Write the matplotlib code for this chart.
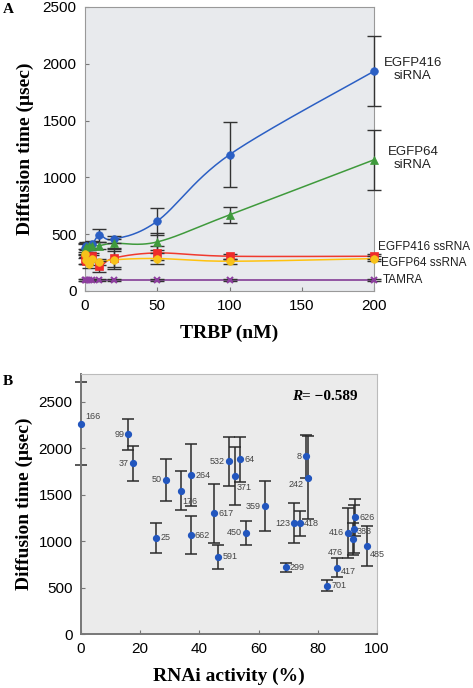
import numpy as np
import matplotlib.pyplot as plt

# --- Panel A : temps de diffusion en fonction de TRBP ---
trbp = [0, 1, 2.5, 5, 10, 20, 50, 100, 200]
egfp416_si = [380, 400, 390, 410, 490, 455, 615, 1200, 1935]
egfp416_si_err = [40, 30, 30, 30, 60, 30, 120, 285, 310]
egfp64_si = [370, 390, 400, 400, 400, 420, 432, 670, 1155]
egfp64_si_err = [40, 30, 30, 30, 30, 40, 75, 70, 265]
egfp416_ss = [280, 265, 300, 305, 218, 290, 335, 306, 306]
egfp416_ss_err = [40, 30, 40, 30, 50, 80, 60, 20, 20]
egfp64_ss = [330, 270, 235, 285, 255, 275, 286, 262, 285]
egfp64_ss_err = [40, 30, 30, 30, 30, 80, 45, 20, 20]
tamra = [100, 100, 100, 100, 100, 100, 100, 100, 100]
tamra_err = [10, 10, 10, 10, 10, 10, 10, 10, 10]

# --- Panel B : temps de diffusion vs activité RNAi ---
noms = ["166", "99", "37", "50", "176", "264", "532", "64", "371", "617",
        "662", "25", "591", "450", "359", "8", "242", "123", "418", "299",
        "701", "417", "416", "476", "383", "626", "485"]
rnai = [0, 16.0, 17.6, 28.7, 33.8, 37.2, 50.1, 53.8, 52.1, 45.0,
        37.0, 25.4, 46.4, 55.7, 62.0, 75.9, 76.7, 72.0, 73.9, 69.1,
        83.2, 86.5, 90.3, 91.9, 92.1, 92.6, 96.5]
diffusion = [2265, 2150, 1840, 1660, 1545, 1710, 1860, 1880, 1700, 1300,
             1065, 1035, 830, 1090, 1375, 1915, 1685, 1195, 1195, 720,
             520, 715, 1090, 1025, 1130, 1255, 950]
diffusion_err = [450, 170, 190, 230, 210, 335, 265, 240, 310, 320,
                 205, 160, 130, 130, 270, 230, 445, 215, 135, 50,
                 58, 105, 270, 170, 260, 200, 215]


def lisser(x, y, sx, sy, n=30):
    """Courbe lissée (type Excel, Bézier Catmull-Rom) passant par les points."""
    p = np.column_stack([np.asarray(x, float) / sx, np.asarray(y, float) / sy])
    p = np.vstack([p[0], p, p[-1]])
    t = np.linspace(0, 1, n)[:, None]
    seg = []
    for i in range(1, len(p) - 2):
        p0, p1, p2, p3 = p[i - 1], p[i], p[i + 1], p[i + 2]
        c1 = p1 + (p2 - p0) / 6.0
        c2 = p2 - (p3 - p1) / 6.0
        b = ((1 - t) ** 3) * p1 + 3 * ((1 - t) ** 2) * t * c1 \
            + 3 * (1 - t) * t ** 2 * c2 + t ** 3 * p2
        seg.append(b)
    b = np.vstack(seg)
    return b[:, 0] * sx, b[:, 1] * sy


fig = plt.figure(figsize=(4.73, 6.88), dpi=100)
plt.rcParams["font.family"] = ["Liberation Sans", "DejaVu Sans"]
SERIF = ["Liberation Serif", "DejaVu Serif"]

# ===================== Panel A =====================
axA = fig.add_axes([85 / 473, 1 - 291 / 688, 289 / 473, 284 / 688])
axA.set_facecolor("#e8eaed")

series = [
    (egfp416_si, egfp416_si_err, "#2b5fc4", "#2b5fc4", "o"),
    (egfp64_si, egfp64_si_err, "#3f9a3c", "#3f9a3c", "^"),
    (egfp416_ss, egfp416_ss_err, "#f03a2e", "#ef2b2b", "s"),
    (egfp64_ss, egfp64_ss_err, "#ffc20e", "#f7c21a", "o"),
    (tamra, tamra_err, "#7b2d8e", "#8e3ea0", "x"),
]
for y, e, c_ligne, c_marq, m in series:
    xs, ys = lisser(trbp, y, 200.0 / 289, 2500.0 / 284)
    axA.plot(xs, ys, color=c_ligne, lw=1.1, zorder=2, clip_on=False)
    axA.errorbar(trbp, y, yerr=e, fmt="none", ecolor="#333333",
                 elinewidth=1.0, capsize=5, capthick=1.0, zorder=3,
                 clip_on=False)
    axA.plot(trbp, y, m, color=c_marq, ms=5.5 if m != "x" else 4,
             mew=1.5 if m == "x" else 0.5, zorder=4, clip_on=False)

axA.set_xlim(0, 200)
axA.set_ylim(0, 2500)
axA.set_xticks([0, 50, 100, 150, 200])
axA.set_yticks([0, 500, 1000, 1500, 2000, 2500])
axA.tick_params(direction="in", length=3, color="#777777", labelsize=11,
                pad=6)
for s in axA.spines.values():
    s.set_color("#999999")
axA.set_xlabel("TRBP (nM)", family=SERIF, fontweight="bold", fontsize=14,
               labelpad=8)
axA.set_ylabel("Diffusion time (\u03bcsec)", family=SERIF,
               fontweight="bold", fontsize=14, labelpad=6)

axA.text(227, 1950, "EGFP416\nsiRNA", ha="center", va="center",
         fontsize=9.5, color="#222222", linespacing=1.1, clip_on=False)
axA.text(227, 1170, "EGFP64\nsiRNA", ha="center", va="center",
         fontsize=9.5, color="#222222", linespacing=1.1, clip_on=False)
axA.text(203, 390, "EGFP416 ssRNA", ha="left", va="center", fontsize=8.5,
         color="#222222", clip_on=False)
axA.text(205, 250, "EGFP64 ssRNA", ha="left", va="center", fontsize=8.5,
         color="#222222", clip_on=False)
axA.text(206, 100, "TAMRA", ha="left", va="center", fontsize=8.5,
         color="#222222", clip_on=False)

fig.text(3 / 473, 1 - 13 / 688, "A", family=SERIF, fontweight="bold",
         fontsize=11)

# ===================== Panel B =====================
axB = fig.add_axes([81 / 473, 1 - 634 / 688, 296 / 473, 260 / 688])
axB.set_facecolor("#ebebeb")
axB.errorbar(rnai, diffusion, yerr=diffusion_err, fmt="none",
             ecolor="#2a2a2a", elinewidth=1.1, capsize=4, capthick=1.1,
             zorder=2, clip_on=False)
axB.plot(rnai, diffusion, "o", color="#2256be", ms=4.2, zorder=3,
         clip_on=False)

a_gauche = {"99", "37", "50", "532", "8", "123", "359", "450", "416"}
decalages = {"166": (3, 5), "176": (1, -8), "371": (1, -8), "242": (-3, -5),
             "485": (2, -6), "417": (3, -3), "476": (-7, -10),
             "383": (2, -2)}
for nom, x, y in zip(noms, rnai, diffusion):
    if nom in decalages:
        dx, dy = decalages[nom]
        ha = "right" if dx < 0 else "left"
    elif nom in a_gauche:
        dx, dy, ha = -3, 0, "right"
    else:
        dx, dy, ha = 3, 0, "left"
    if nom == "242":
        ha = "right"
    axB.annotate(nom, (x, y), xytext=(dx, dy), textcoords="offset points",
                 ha=ha, va="center", fontsize=6.5, color="#444444",
                 zorder=5)

axB.set_xlim(0, 100)
axB.set_ylim(0, 2800)
axB.set_xticks([0, 20, 40, 60, 80, 100])
axB.set_yticks([0, 500, 1000, 1500, 2000, 2500])
axB.tick_params(direction="in", length=3, color="#777777", labelsize=11,
                pad=6)
axB.spines["left"].set_color("#777777")
axB.spines["bottom"].set_color("#777777")
axB.spines["left"].set_linewidth(1.4)
axB.spines["bottom"].set_linewidth(1.4)
axB.spines["top"].set_color("#bbbbbb")
axB.spines["right"].set_color("#bbbbbb")
axB.set_xlabel("RNAi activity (%)", family=SERIF, fontweight="bold",
               fontsize=14, labelpad=8)
axB.set_ylabel("Diffusion time (\u03bcsec)", family=SERIF,
               fontweight="bold", fontsize=14, labelpad=4)

tR = axB.text(0.713, 0.915, "R", transform=axB.transAxes, family=SERIF,
              fontweight="bold", fontstyle="italic", fontsize=11,
              ha="left", va="center")
axB.annotate("= \u22120.589", xy=(1, 0.5), xycoords=tR, family=SERIF,
             fontweight="bold", fontsize=11, ha="left", va="center")

fig.text(3 / 473, 1 - 385 / 688, "B", family=SERIF, fontweight="bold",
         fontsize=11)

fig.savefig("out.png", dpi=100)
